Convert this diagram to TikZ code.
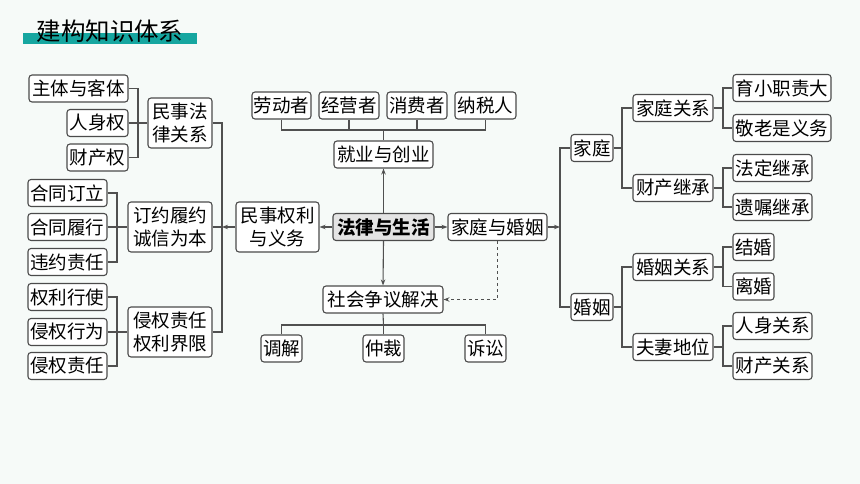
\documentclass[tikz,border=0pt]{standalone}
\usepackage{fontspec}
\newfontfamily\cjk{Noto Sans CJK SC}
\usetikzlibrary{arrows.meta}
\definecolor{bgc}{RGB}{246,250,248}
\definecolor{teal1}{RGB}{22,166,160}
\definecolor{boxline}{RGB}{75,75,75}
\definecolor{conn}{RGB}{80,80,80}
\definecolor{centfill}{RGB}{228,228,228}
\tikzset{
  bx/.style={draw=boxline, line width=1.1pt, rounded corners=3pt, fill=white, inner sep=0pt,
     minimum height=27pt, font=\cjk\fontsize{18.5}{23.5}\selectfont, align=center},
  bx2/.style={bx, minimum height=50pt},
  cent/.style={bx, fill=centfill, font=\cjk\bfseries\fontsize{18.5}{23.5}\selectfont},
  ln/.style={draw=conn, line width=1.1pt},
  arr/.style={ln, -{Stealth[length=6pt,width=4.5pt]}},
}
\begin{document}
\begin{tikzpicture}[x=1pt,y=-1pt]
\useasboundingbox (0,0) rectangle (860,484);
\fill[bgc] (0,0) rectangle (860,484);
% title
\fill[teal1] (23,33) rectangle (197,44) coordinate (tb);
\node[font=\cjk\fontsize{24.5}{26}\selectfont, inner sep=0pt, anchor=center] (title) at (110,31) {建构知识体系};
% left column
\node[bx, minimum width=99pt] (zt) at (78.5,88.5) {主体与客体};
\node[bx, minimum width=61pt] (rsq) at (97.5,123) {人身权};
\node[bx, minimum width=61pt] (ccq) at (97.5,157.5) {财产权};
\node[bx2, minimum width=64pt] (msfl) at (180,123) {民事法\\律关系};
\node[bx, minimum width=79pt] (ht1) at (67.5,193) {合同订立};
\node[bx, minimum width=79pt] (ht2) at (67.5,227) {合同履行};
\node[bx, minimum width=79pt] (ht3) at (67.5,262) {违约责任};
\node[bx2, minimum width=84pt] (dy) at (170,227) {订约履约\\诚信为本};
\node[bx, minimum width=79pt] (ql1) at (67.5,297) {权利行使};
\node[bx, minimum width=79pt] (ql2) at (67.5,332) {侵权行为};
\node[bx, minimum width=79pt] (ql3) at (67.5,366) {侵权责任};
\node[bx2, minimum width=84pt] (qq) at (170,332) {侵权责任\\权利界限};
\node[bx2, minimum width=83pt] (msqy) at (277.5,227) {民事权利\\与义务};
% center
\node[cent, minimum width=101pt] (flsh) at (383.5,227) {法律与生活};
\node[bx, minimum width=99pt] (jyh) at (497.5,227) {家庭与婚姻};
\node[bx, minimum width=99pt] (jycy) at (383.5,154.5) {就业与创业};
\node[bx, minimum width=59pt] (ld) at (281.5,105.5) {劳动者};
\node[bx, minimum width=60pt] (jy) at (349,105.5) {经营者};
\node[bx, minimum width=60pt] (xf) at (417,105.5) {消费者};
\node[bx, minimum width=61pt] (ns) at (485.5,105.5) {纳税人};
\node[bx, minimum width=120pt] (sh) at (383,299.5) {社会争议解决};
\node[bx, minimum width=41pt] (tj) at (281.5,348.5) {调解};
\node[bx, minimum width=41pt] (zc) at (383.5,348.5) {仲裁};
\node[bx, minimum width=41pt] (ss) at (485.5,348.5) {诉讼};
% right column
\node[bx, minimum width=42pt] (jt) at (592,148) {家庭};
\node[bx, minimum width=42pt] (hy) at (592,307) {婚姻};
\node[bx, minimum width=80pt] (jtgx) at (673,108) {家庭关系};
\node[bx, minimum width=80pt] (ccjc) at (673,188) {财产继承};
\node[bx, minimum width=80pt] (hygx) at (673,267) {婚姻关系};
\node[bx, minimum width=80pt] (fq) at (673,347) {夫妻地位};
\node[bx, minimum width=98pt] (yx) at (782,88) {育小职责大};
\node[bx, minimum width=98pt] (jl) at (782,128) {敬老是义务};
\node[bx, minimum width=79pt] (fd) at (772.5,168) {法定继承};
\node[bx, minimum width=79pt] (yz) at (772.5,207) {遗嘱继承};
\node[bx, minimum width=41pt] (jh) at (753.5,247) {结婚};
\node[bx, minimum width=41pt] (lh) at (753.5,286.5) {离婚};
\node[bx, minimum width=79pt] (rsgx) at (772.5,326) {人身关系};
\node[bx, minimum width=79pt] (ccgx) at (772.5,366) {财产关系};
% junction coordinates
\coordinate (jA) at (138,123);
\coordinate (jM) at (222,227);
\coordinate (jH) at (117,227);
\coordinate (jQ) at (117,332);
\coordinate (jT) at (383.5,130);
\coordinate (jB) at (383.5,325);
\coordinate (jR) at (560,227);
\coordinate (jJ) at (622,148);
\coordinate (jY) at (622,307);
\coordinate (jG) at (723,108);
\coordinate (jC) at (723,188);
\coordinate (jK) at (723,267);
\coordinate (jF) at (723,347);
% left connectors
\draw[ln] (zt.east) -| (jA) |- (ccq.east);
\draw[ln] (rsq.east) -- (msfl.west);
\draw[ln] (msfl.east) -| (jM) |- (qq.east);
\draw[ln] (dy.east) -- (jM);
\draw[ln] (ht1.east) -| (jH) |- (ht3.east);
\draw[ln] (ht2.east) -- (dy.west);
\draw[ln] (ql1.east) -| (jQ) |- (ql3.east);
\draw[ln] (ql2.east) -- (qq.west);
\draw[arr] (msqy.west) -- (jM);
% center connectors
\draw[arr] (flsh.west) -- (msqy.east);
\draw[arr] (flsh.east) -- (jyh.west);
\draw[arr] (flsh.north) -- (jycy.south);
\draw[arr] (flsh.south) -- (sh.north);
\draw[ln] (ld.south) |- (jT) -| (ns.south);
\draw[ln] (jy.south) -- (jy.south |- jT);
\draw[ln] (xf.south) -- (xf.south |- jT);
\draw[ln] (jT) -- (jycy.north);
\draw[ln] (sh.south) -- (jB);
\draw[ln] (tj.north) |- (jB) -| (ss.north);
\draw[ln] (zc.north) -- (zc.north |- jB);
\draw[arr, dashed] (jyh.south) |- (sh.east);
% right connectors
\draw[arr] (jyh.east) -- (jR);
\draw[ln] (jt.west) -| (jR) |- (hy.west);
\draw[ln] (jtgx.west) -| (jJ) |- (ccjc.west);
\draw[ln] (jt.east) -- (jJ);
\draw[ln] (hygx.west) -| (jY) |- (fq.west);
\draw[ln] (hy.east) -- (jY);
\draw[ln] (yx.west) -| (jG) |- (jl.west);
\draw[ln] (jtgx.east) -- (jG);
\draw[ln] (fd.west) -| (jC) |- (yz.west);
\draw[ln] (ccjc.east) -- (jC);
\draw[ln] (jh.west) -| (jK) |- (lh.west);
\draw[ln] (hygx.east) -- (jK);
\draw[ln] (rsgx.west) -| (jF) |- (ccgx.west);
\draw[ln] (fq.east) -- (jF);
\end{tikzpicture}
\end{document}
